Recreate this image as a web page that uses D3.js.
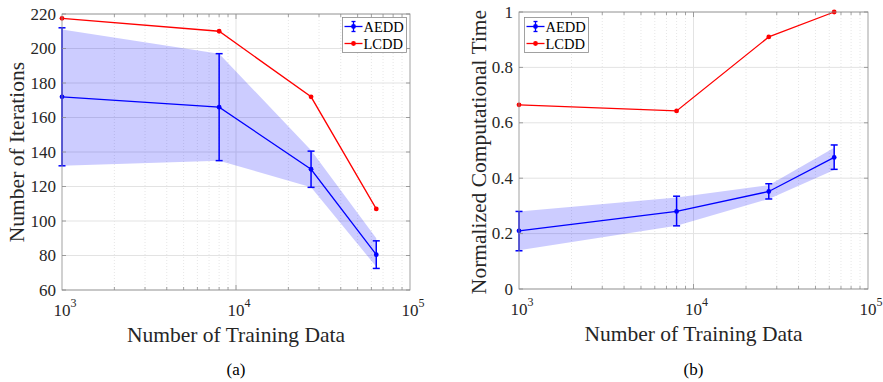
<!DOCTYPE html>
<html>
<head>
<meta charset="utf-8">
<script src="https://cdn.jsdelivr.net/npm/d3@7"></script>
<style>
body { margin: 0; background: #fff; }
svg { font-family: "Liberation Serif", "DejaVu Serif", serif; }
</style>
</head>
<body>
<svg id="chart" width="883" height="382"></svg>
<script>
const sizes = [1000, 8000, 27000, 64000];

// (a) iterations
const iterAEDD = [172, 166, 130, 80.5];
const iterLow = [132, 135, 119.5, 72.5];
const iterHigh = [212, 197, 140.5, 88.5];
const iterBandLow = [132, 135, 119.5, 73.5];
const iterBandHigh = [211, 197, 141, 90];
const iterLCDD = [217.5, 210, 172, 107];
const iterTicks = [60, 80, 100, 120, 140, 160, 180, 200, 220];

// (b) normalized time
const timeAEDD = [0.21, 0.28, 0.352, 0.475];
const timeLow = [0.138, 0.228, 0.325, 0.432];
const timeHigh = [0.28, 0.335, 0.38, 0.52];
const timeBandLow = [0.14, 0.228, 0.325, 0.43];
const timeBandHigh = [0.28, 0.33, 0.375, 0.51];
const timeLCDD = [0.665, 0.643, 0.91, 1.0];
const timeTicks = [0, 0.2, 0.4, 0.6, 0.8, 1];

const svg = d3.select('#chart');

const drawPanel = (opt) => {
	const g = svg.append('g');
	const x = d3.scaleLog().domain([1e3, 1e5]).range([opt.left, opt.right]);
	const y = d3.scaleLinear().domain(opt.yDomain).range([opt.bottom, opt.top]);

	// minor x grid (dotted)
	const minor = [];
	for (let e = 3; e < 5; e++) for (let k = 2; k <= 9; k++) minor.push(k * Math.pow(10, e));
	g.selectAll('.mgrid').data(minor).enter().append('line')
	.attr('x1', d => x(d)).attr('x2', d => x(d))
	.attr('y1', opt.top).attr('y2', opt.bottom)
	.attr('stroke', '#e0e0e0').attr('stroke-dasharray', '1,2').attr('stroke-width', 0.8);

	// major grid
	g.selectAll('.xgrid').data([1e4]).enter().append('line')
	.attr('x1', d => x(d)).attr('x2', d => x(d))
	.attr('y1', opt.top).attr('y2', opt.bottom)
	.attr('stroke', '#e3e3e3');
	g.selectAll('.ygrid').data(opt.ticks).enter().append('line')
	.attr('x1', opt.left).attr('x2', opt.right)
	.attr('y1', d => y(d)).attr('y2', d => y(d))
	.attr('stroke', '#e3e3e3');

	// band
	const area = d3.area()
	.x((d, i) => x(sizes[i]))
	.y0((d, i) => y(opt.bandLow[i]))
	.y1(d => y(d));
	g.append('path').datum(opt.bandHigh)
	.attr('d', area).attr('fill', '#0000ff').attr('fill-opacity', 0.2);

	const line = d3.line().x((d, i) => x(sizes[i])).y(d => y(d));

	// LCDD
	g.append('path').datum(opt.lcdd).attr('d', line)
	.attr('fill', 'none').attr('stroke', '#ff0000').attr('stroke-width', 1.3);
	g.selectAll('.rdot').data(opt.lcdd).enter().append('circle')
	.attr('cx', (d, i) => x(sizes[i])).attr('cy', d => y(d)).attr('r', 2.4).attr('fill', '#ff0000');

	// AEDD
	g.append('path').datum(opt.aedd).attr('d', line)
	.attr('fill', 'none').attr('stroke', '#0000ff').attr('stroke-width', 1.3);
	sizes.forEach((s, i) => {
		const cx = x(s);
		g.append('line').attr('x1', cx).attr('x2', cx)
		.attr('y1', y(opt.low[i])).attr('y2', y(opt.high[i]))
		.attr('stroke', '#0000ff').attr('stroke-width', 1.5);
		[opt.low[i], opt.high[i]].forEach(v => {
			g.append('line').attr('x1', cx - 3.5).attr('x2', cx + 3.5)
			.attr('y1', y(v)).attr('y2', y(v))
			.attr('stroke', '#0000ff').attr('stroke-width', 1.5);
		});
	});
	g.selectAll('.bdot').data(opt.aedd).enter().append('circle')
	.attr('cx', (d, i) => x(sizes[i])).attr('cy', d => y(d)).attr('r', 2.4).attr('fill', '#0000ff');

	// box
	g.append('rect')
	.attr('x', opt.left).attr('y', opt.top)
	.attr('width', opt.right - opt.left).attr('height', opt.bottom - opt.top)
	.attr('fill', 'none').attr('stroke', '#8a8a8a').attr('stroke-width', 0.8);

	// ticks inside
	const tickCol = '#8a8a8a';
	minor.concat([1e4]).forEach(v => {
		const len = v === 1e4 ? 5 : 3;
		g.append('line').attr('x1', x(v)).attr('x2', x(v))
		.attr('y1', opt.bottom).attr('y2', opt.bottom - len).attr('stroke', tickCol).attr('stroke-width', 0.8);
		g.append('line').attr('x1', x(v)).attr('x2', x(v))
		.attr('y1', opt.top).attr('y2', opt.top + len).attr('stroke', tickCol).attr('stroke-width', 0.8);
	});
	opt.ticks.forEach(v => {
		g.append('line').attr('x1', opt.left).attr('x2', opt.left + 4)
		.attr('y1', y(v)).attr('y2', y(v)).attr('stroke', tickCol).attr('stroke-width', 0.8);
		g.append('line').attr('x1', opt.right).attr('x2', opt.right - 4)
		.attr('y1', y(v)).attr('y2', y(v)).attr('stroke', tickCol).attr('stroke-width', 0.8);
	});

	// y tick labels
	g.selectAll('.ylab').data(opt.ticks).enter().append('text')
	.attr('x', opt.left - 6).attr('y', d => y(d) + 5.5)
	.attr('text-anchor', 'end').attr('font-size', 17).attr('fill', '#262626')
	.text(d => d3.format('~g')(d));

	// x tick labels
	[3, 4, 5].forEach(e => {
		const t = g.append('text')
		.attr('x', x(Math.pow(10, e)) + 3).attr('y', opt.bottom + 26)
		.attr('text-anchor', 'middle').attr('font-size', 17).attr('fill', '#262626');
		t.append('tspan').text('10');
		t.append('tspan').attr('dy', -9).attr('font-size', 12).text(e);
	});

	// axis titles
	const cx = (opt.left + opt.right) / 2;
	g.append('text').attr('x', cx).attr('y', opt.bottom + 52)
	.attr('text-anchor', 'middle').attr('font-size', 21.5).attr('fill', '#262626')
	.text('Number of Training Data');
	g.append('text')
	.attr('transform', 'translate(' + opt.yTitleX + ',' + opt.yTitleY + ') rotate(-90)')
	.attr('text-anchor', 'middle').attr('font-size', opt.yTitleSize).attr('fill', '#262626')
	.text(opt.yTitle);
	g.append('text').attr('x', cx).attr('y', 375)
	.attr('text-anchor', 'middle').attr('font-size', 17).attr('fill', '#000')
	.text(opt.caption);

	// legend
	const lg = g.append('g').attr('transform', 'translate(' + opt.legX + ',' + opt.legY + ')');
	lg.append('rect').attr('width', 64).attr('height', 35)
	.attr('fill', '#fff').attr('stroke', '#8a8a8a').attr('stroke-width', 0.8);
	const items = [['AEDD', '#0000ff', true], ['LCDD', '#ff0000', false]];
	items.forEach((it, i) => {
		const yy = 9 + i * 17;
		lg.append('line').attr('x1', 2).attr('x2', 20).attr('y1', yy).attr('y2', yy)
		.attr('stroke', it[1]).attr('stroke-width', 1.3);
		lg.append('circle').attr('cx', 11).attr('cy', yy).attr('r', 2.4).attr('fill', it[1]);
		if (it[2]) {
			lg.append('line').attr('x1', 11).attr('x2', 11).attr('y1', yy - 5).attr('y2', yy + 5)
			.attr('stroke', it[1]).attr('stroke-width', 1.3);
			[-5, 5].forEach(o => lg.append('line').attr('x1', 9).attr('x2', 13)
			.attr('y1', yy + o).attr('y2', yy + o).attr('stroke', it[1]).attr('stroke-width', 1.3));
		}
		lg.append('text').attr('x', 21).attr('y', yy + 5)
		.attr('font-size', 14.5).attr('fill', '#000').text(it[0]);
	});
};

drawPanel({
	left: 62, right: 410, top: 14, bottom: 290,
	yDomain: [60, 220], ticks: iterTicks,
	aedd: iterAEDD, low: iterLow, high: iterHigh,
	bandLow: iterBandLow, bandHigh: iterBandHigh, lcdd: iterLCDD,
	yTitle: 'Number of Iterations', yTitleX: 24, yTitleY: 152, yTitleSize: 21.5,
	caption: '(a)', legX: 342.5, legY: 17.5
});

drawPanel({
	left: 519, right: 868, top: 12, bottom: 289,
	yDomain: [0, 1], ticks: timeTicks,
	aedd: timeAEDD, low: timeLow, high: timeHigh,
	bandLow: timeBandLow, bandHigh: timeBandHigh, lcdd: timeLCDD,
	yTitle: 'Normalized Computational Time', yTitleX: 486, yTitleY: 152, yTitleSize: 21.5,
	caption: '(b)', legX: 524.5, legY: 17.5
});
</script>
</body>
</html>
